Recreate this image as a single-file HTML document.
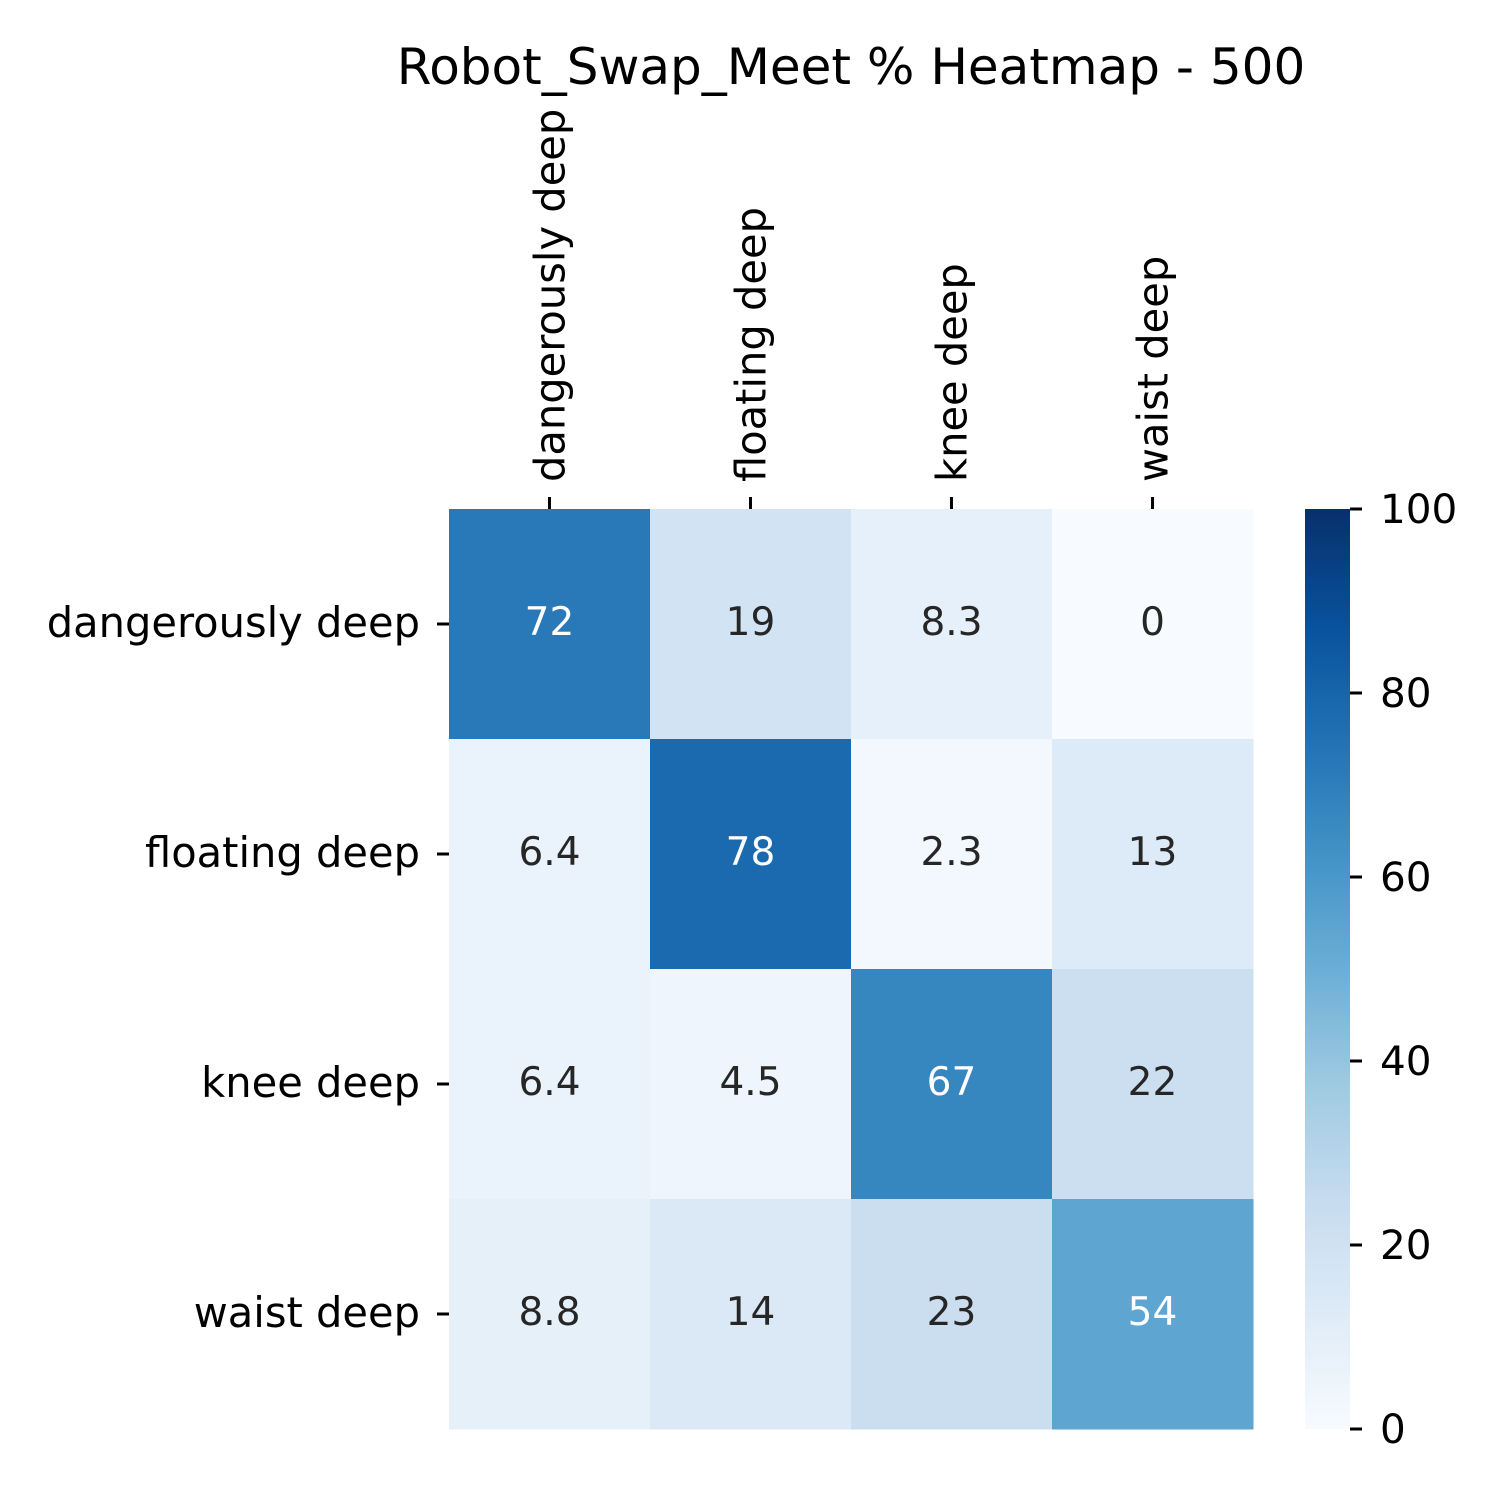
<!DOCTYPE html>
<html><head><meta charset="utf-8"><style>
html,body{margin:0;padding:0;background:#fff;}
svg{display:block;font-family:"DejaVu Sans","Liberation Sans",sans-serif;}
</style></head><body>
<svg id="chart" width="1500" height="1500" viewBox="0 0 1500 1500">
<rect width="1500" height="1500" fill="#fff"/>
<text x="851" y="84" font-size="50" text-anchor="middle" fill="#000">Robot_Swap_Meet % Heatmap - 500</text>
<g id="cells"></g>
<g id="xlabels"></g>
<g id="ylabels"></g>
<defs><linearGradient id="cbg" x1="0" y1="1" x2="0" y2="0"></linearGradient></defs>
<rect x="1305" y="509" width="45" height="920" fill="url(#cbg)"/>
<g id="cbticks"></g>
</svg>
<script>
const rowLabels = ["dangerously deep","floating deep","knee deep","waist deep"];
const colLabels = ["dangerously deep","floating deep","knee deep","waist deep"];
const values = [
  [72,19,8.3,0],
  [6.4,78,2.3,13],
  [6.4,4.5,67,22],
  [8.8,14,23,54]
];
const cbTicks = [0,20,40,60,80,100];
const vmin = 0, vmax = 100;

const NS = "http://www.w3.org/2000/svg";
const X0 = 449, Y0 = 509, CW = 201, CH = 230;
const stops = ["#f7fbff","#deebf7","#c6dbef","#9ecae1","#6baed6","#4292c6","#2171b5","#08519c","#08306b"];
function hex(c){return [1,3,5].map(i=>parseInt(c.substr(i,2),16));}
function cmap(v){
  let t=(v-vmin)/(vmax-vmin); t=Math.max(0,Math.min(1,t));
  const p=t*(stops.length-1), i=Math.min(Math.floor(p),stops.length-2), f=p-i;
  const a=hex(stops[i]), b=hex(stops[i+1]);
  return "rgb("+a.map((x,k)=>Math.round(x+(b[k]-x)*f)).join(",")+")";
}
function xPos(j){return X0+j*CW;}
function yPos(i){return Y0+i*CH;}
function el(tag,attrs,parent){const e=document.createElementNS(NS,tag);for(const k in attrs)e.setAttribute(k,attrs[k]);parent.appendChild(e);return e;}

const cells=document.getElementById("cells");
values.forEach((row,i)=>row.forEach((v,j)=>{
  const r=el("rect",{x:xPos(j),y:yPos(i),width:CW+0.5,height:CH+0.5,fill:cmap(v)},cells);
  
  
  const t=el("text",{x:xPos(j)+CW/2,y:yPos(i)+CH/2+11,"font-size":39,"text-anchor":"middle",fill:v>50?"#fff":"#262626"},cells);
  t.textContent=String(v);
  
  
}));
const xl=document.getElementById("xlabels");
colLabels.forEach((s,j)=>{
  const cx=xPos(j)+CW/2;
  el("line",{x1:cx,y1:497,x2:cx,y2:509,stroke:"#000","stroke-width":3},xl);
  const t=el("text",{transform:`translate(${cx+15},482) rotate(-90)`,"font-size":41.6,"text-anchor":"start",fill:"#000"},xl);
  t.textContent=s;
  
  
});
const yl=document.getElementById("ylabels");
rowLabels.forEach((s,i)=>{
  const cy=yPos(i)+CH/2;
  el("line",{x1:437,y1:cy,x2:449,y2:cy,stroke:"#000","stroke-width":3},yl);
  const t=el("text",{x:420,y:cy+13,"font-size":41.6,"text-anchor":"end",fill:"#000"},yl);
  t.textContent=s;
  
  
});
const g=document.getElementById("cbg");
stops.forEach((c,k)=>el("stop",{offset:(k/(stops.length-1)),"stop-color":c},g));
const cb=document.getElementById("cbticks");
function cbY(v){return 1429-(v-vmin)/(vmax-vmin)*920;}
cbTicks.forEach(v=>{
  const y=cbY(v);
  el("line",{x1:1350,y1:y,x2:1362,y2:y,stroke:"#000","stroke-width":3},cb);
  const t=el("text",{x:1380,y:y+14,"font-size":40.5,fill:"#000"},cb);
  t.textContent=String(v);
  
  
});
</script>
</body></html>
